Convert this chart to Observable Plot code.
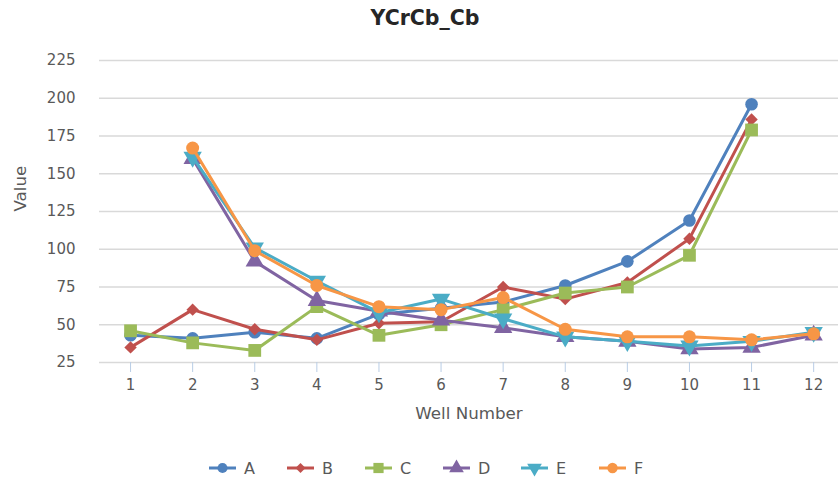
<!DOCTYPE html>
<html><head><meta charset="utf-8">
<script src="https://cdn.jsdelivr.net/npm/d3@7"></script>
<script src="https://cdn.jsdelivr.net/npm/@observablehq/plot@0.6"></script>
<style>
body{margin:0;background:#fff;}
#wrap{position:relative;width:838px;height:481px;font-family:"DejaVu Sans",sans-serif;overflow:hidden;}
#title{position:absolute;top:6px;left:6px;width:838px;text-align:center;font-weight:bold;font-size:20.5px;color:#262626;}
#chart{position:absolute;top:0;left:0;}
#legend{position:absolute;top:458px;left:0;width:838px;height:22px;}
.item{position:absolute;top:0;display:flex;align-items:center;font-size:16px;color:#595959;}
.item svg{margin-right:8px;}
</style></head>
<body>
<div id="wrap">
  <div id="chart"></div>
  <div id="title">YCrCb_Cb</div>
  <div id="legend"></div>
</div>
<script>
const wells = [1,2,3,4,5,6,7,8,9,10,11,12];
const seriesNames = ["A","B","C","D","E","F"];
const A = [43, 41, 45, 41, 57, 61, 65, 76, 92, 119, 196, null];
const B = [35, 60, 47, 40, 51, 52, 75, 67, 78, 107, 186, null];
const C = [46, 38, 33, 62, 43, 50, 60, 71, 75, 96, 179, null];
const D = [null, 160, 92, 66, 59, 53, 48, 42, 39, 34, 35, 43];
const E = [null, 161, 101, 79, 58, 67, 54, 42, 39, 36, 39, 45];
const F = [null, 167, 99, 76, 62, 60, 68, 47, 42, 42, 40, 44];
const yTicks = [25,50,75,100,125,150,175,200,225];

const colors = ["#4f81bd","#c0504d","#9bbb59","#8064a2","#4bacc6","#f79646"];
const symbols = ["circle","diamond2","square","triangle","triangle","circle"];
const rotations = [0,0,0,0,180,0];
const radii = [6.3,5.6,7.2,6.8,6.8,6.5];
const values = {A,B,C,D,E,F};

const marks = [
  Plot.ruleY(yTicks, {stroke:"#d9d9d9", strokeWidth:1.5}),
  Plot.axisY({ticks:yTicks, tickSize:0, tickPadding:24, fontSize:15, fill:"#595959", label:null}),
  Plot.axisX({ticks:wells, tickSize:10, tickPadding:7, fontSize:15, stroke:"#b9cde5", fill:"#595959", label:null, tickFormat:d=>String(d)}),
  Plot.text(["Well Number"], {frameAnchor:"bottom", dy:56, fontSize:16.7, fill:"#595959"}),
  Plot.text(["Value"], {frameAnchor:"left", dx:-79, rotate:-90, fontSize:16.7, fill:"#595959"})
];
seriesNames.forEach((s,i) => {
  const rows = wells.map((w,j) => ({x:w, y:values[s][j]}));
  marks.push(Plot.line(rows, {x:"x", y:"y", stroke:colors[i], strokeWidth:3, curve:"linear"}));
  marks.push(Plot.dot(rows.filter(d=>d.y!=null), {x:"x", y:"y", symbol:()=>symbols[i], fill:colors[i], stroke:"none", r:radii[i], rotate:rotations[i]}));
});

const chart = Plot.plot({
  width:838, height:440,
  marginLeft:99, marginRight:0, marginTop:60, marginBottom:78,
  style:{fontFamily:"DejaVu Sans", background:"white"},
  x:{type:"linear", domain:[0.5,12.4], axis:null},
  y:{domain:[25,225], axis:null},
  symbol:{type:"identity"},
  marks
});
document.getElementById("chart").appendChild(chart);

// legend
const legend = document.getElementById("legend");
seriesNames.forEach((s,i) => {
  const div = document.createElement("div");
  div.className = "item";
  div.style.left = (209 + i*78) + "px";
  const svg = d3.create("svg").attr("width",27).attr("height",20);
  svg.append("line").attr("x1",0).attr("x2",27).attr("y1",10).attr("y2",10).attr("stroke",colors[i]).attr("stroke-width",3);
  const symMap = {circle:d3.symbolCircle, diamond2:d3.symbolDiamond2, square:d3.symbolSquare, triangle:d3.symbolTriangle};
  const rr = radii[i]*0.8;
  svg.append("path").attr("d", d3.symbol(symMap[symbols[i]], Math.PI*rr*rr)())
     .attr("transform",`translate(13.5,10) rotate(${rotations[i]})`).attr("fill",colors[i]);
  div.appendChild(svg.node());
  const t = document.createElement("span");
  t.textContent = s;
  div.appendChild(t);
  legend.appendChild(div);
});
</script>
</body></html>
